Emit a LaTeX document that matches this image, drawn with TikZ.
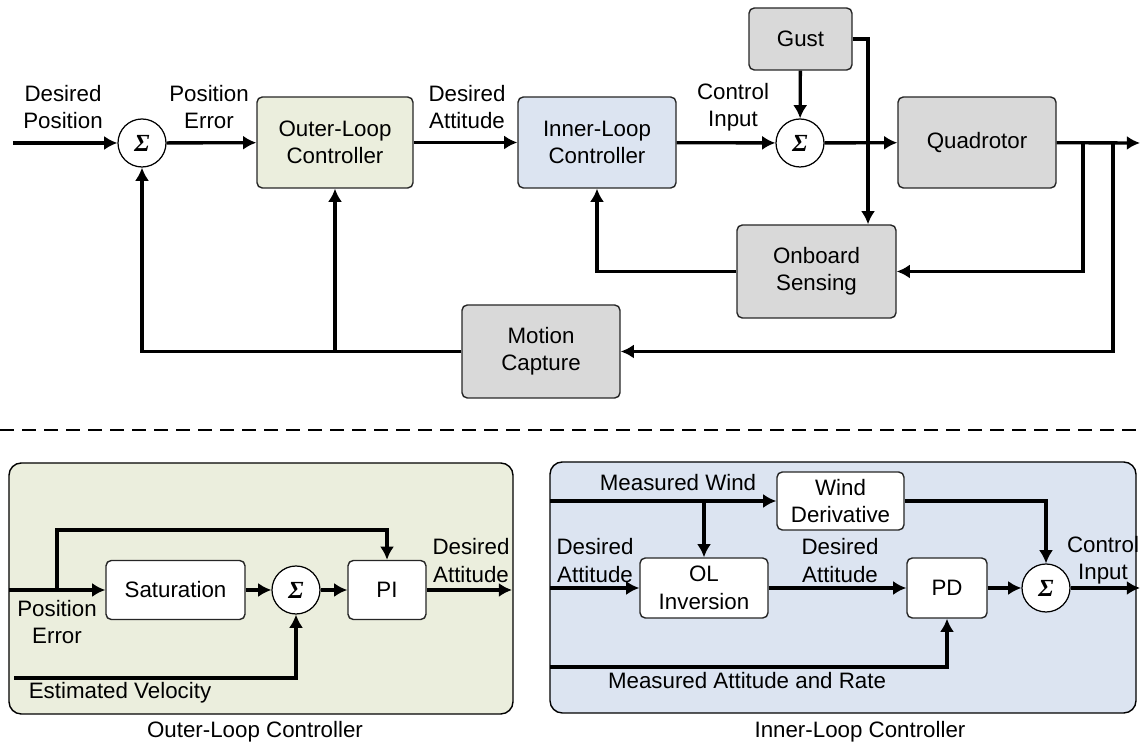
\documentclass[tikz,border=0pt]{standalone}
\usepackage{fontspec}
\setmainfont{Liberation Sans}
\newfontfamily\sigmafont{Liberation Serif}
\usetikzlibrary{arrows.meta}
\definecolor{olgreen}{HTML}{EBEEDD}
\definecolor{ilblue}{HTML}{DCE4F1}
\definecolor{plantgray}{HTML}{D9D9D9}

\begin{document}
\begin{tikzpicture}[
    blk/.style={draw=black!85, line width=0.8pt, rounded corners=3pt, align=center,
      inner sep=0pt, font=\fontsize{12.7}{15.6}\selectfont},
    sum/.style={draw, circle, line width=0.7pt, fill=white, minimum size=0.96cm,
      inner sep=0pt, font=\sigmafont\bfseries\itshape\fontsize{14}{14}\selectfont},
    lbl/.style={align=center, inner sep=0pt, font=\fontsize{12.7}{15.6}\selectfont},
    sig/.style={line width=1.9pt, >={Latex[length=7.5pt,width=8pt]}}
  ]
    \useasboundingbox (0,0) rectangle (22.8,14.9);

    % panels of the lower half
    \draw[line width=0.8pt, rounded corners=7pt, fill=olgreen]
    (0.18,0.62) rectangle (10.26,5.64);
    \draw[line width=0.8pt, rounded corners=7pt, fill=ilblue]
    (11.0,0.64) rectangle (22.72,5.66);
    \draw[line width=1.1pt, dash pattern=on 0.28cm off 0.16cm]
    (0,6.30) -- (22.8,6.30);

    % upper loop
    \path
    (2.84,12.04) node[sum] (1) {Σ}
    (6.70,12.05) node[blk, fill=olgreen, minimum width=3.12cm, minimum height=1.82cm] (2) {Outer-Loop\\Controller}
    (11.94,12.05) node[blk, fill=ilblue, minimum width=3.16cm, minimum height=1.82cm] (3) {Inner-Loop\\Controller}
    (16.00,12.04) node[sum] (4) {Σ}
    (16.01,14.12) node[blk, fill=plantgray, minimum width=2.06cm, minimum height=1.24cm] (5) {Gust}
    (19.54,12.05) node[blk, fill=plantgray, minimum width=3.16cm, minimum height=1.82cm] (6) {Quadrotor}
    (16.33,9.47) node[blk, fill=plantgray, minimum width=3.18cm, minimum height=1.86cm] (7) {Onboard\\Sensing}
    (10.82,7.87) node[blk, fill=plantgray, minimum width=3.16cm, minimum height=1.86cm] (8) {Motion\\Capture}
    (1.26,12.76) node[lbl] (9) {Desired\\Position}
    (4.18,12.76) node[lbl] (10) {Position\\Error}
    (9.34,12.76) node[lbl] (11) {Desired\\Attitude}
    (14.66,12.76) node[lbl] (12) {Control\\Input}
    (0.26,12.04) coordinate (30)
    (22.8,12.04) coordinate (31)
    (17.36,14.12) coordinate (32)
    (21.66,12.04) coordinate (33)
    (22.26,12.04) coordinate (34);

    % lower left: outer-loop controller
    \path
    (3.51,3.10) node[blk, fill=white, minimum width=2.78cm, minimum height=1.18cm] (13) {Saturation}
    (5.92,3.10) node[sum] (14) {Σ}
    (7.74,3.10) node[blk, fill=white, minimum width=1.56cm, minimum height=1.18cm] (15) {PI}
    (9.42,3.69) node[lbl] (16) {Desired\\Attitude}
    (1.14,2.46) node[lbl] (17) {Position\\Error}
    (2.40,1.04) node[lbl] (18) {Estimated Velocity}
    (5.10,0.26) node[lbl] (19) {Outer-Loop Controller}
    (0.18,3.10) coordinate (35)
    (1.14,3.10) coordinate (36)
    (1.14,4.30) coordinate (37)
    (10.24,3.10) coordinate (38)
    (0.28,1.34) coordinate (39);

    % lower right: inner-loop controller
    \path
    (16.81,4.88) node[blk, fill=white, minimum width=2.54cm, minimum height=1.16cm] (20) {Wind\\Derivative}
    (14.08,3.14) node[blk, fill=white, minimum width=2.56cm, minimum height=1.20cm] (21) {OL\\Inversion}
    (18.94,3.14) node[blk, fill=white, minimum width=1.60cm, minimum height=1.20cm] (22) {PD}
    (20.92,3.14) node[sum] (23) {Σ}
    (13.56,5.24) node[lbl] (24) {Measured Wind}
    (11.90,3.69) node[lbl] (25) {Desired\\Attitude}
    (16.80,3.69) node[lbl] (26) {Desired\\Attitude}
    (22.06,3.69) node[lbl] (27) {Control\\Input}
    (14.94,1.28) node[lbl] (28) {Measured Attitude and Rate}
    (17.20,0.26) node[lbl] (29) {Inner-Loop Controller}
    (11.0,4.88) coordinate (40)
    (14.08,4.88) coordinate (41)
    (11.0,3.14) coordinate (42)
    (22.8,3.14) coordinate (43)
    (11.0,1.56) coordinate (44);

    \draw[sig, ->]
    (30) -- (1);
    \draw[sig, ->]
    (1) -- (2);
    \draw[sig, ->]
    (2) -- (3);
    \draw[sig, ->]
    (3) -- (4);
    \draw[sig, ->]
    (5) -- (4);
    \draw[sig, ->]
    (4) -- (6);
    \draw[sig, ->]
    (5.east) -- (32) -- (32 |- 7.north);
    \draw[sig, ->]
    (6) -- (31);
    \draw[sig, ->]
    (33) |- (7.east);
    \draw[sig, ->]
    (34) |- (8.east);
    \draw[sig, ->]
    (7.west) -| (3.south);
    \draw[sig, ->]
    (8.west) -| (1.south);
    \draw[sig, ->]
    (2.south |- 8.west) -- (2.south);

    \draw[sig, ->]
    (35) -- (13);
    \draw[sig, ->]
    (36) -- (37) -| (15.north);
    \draw[sig, ->]
    (13) -- (14);
    \draw[sig, ->]
    (14) -- (15);
    \draw[sig, ->]
    (15) -- (38);
    \draw[sig, ->]
    (39) -| (14.south);

    \draw[sig, ->]
    (40) -- (20);
    \draw[sig, ->]
    (41) -- (21.north);
    \draw[sig, ->]
    (20.east) -| (23.north);
    \draw[sig, ->]
    (42) -- (21);
    \draw[sig, ->]
    (21) -- (22);
    \draw[sig, ->]
    (22) -- (23);
    \draw[sig, ->]
    (23) -- (43);
    \draw[sig, ->]
    (44) -| (22.south);

  \end{tikzpicture}
\end{document}
